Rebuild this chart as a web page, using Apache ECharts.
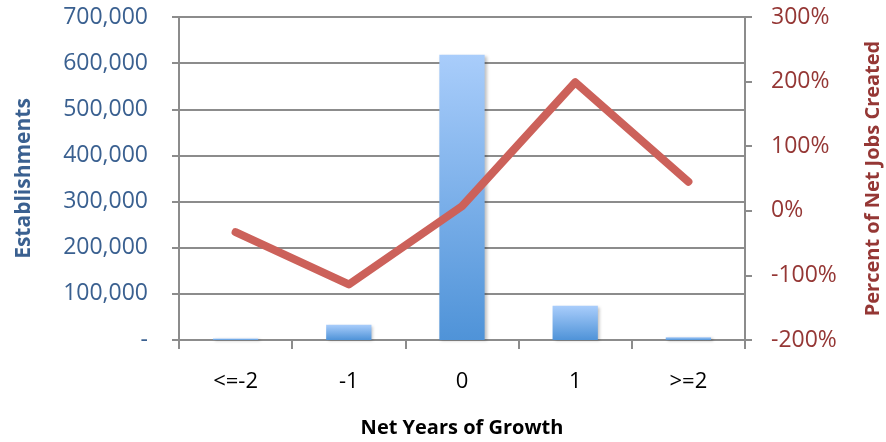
<!DOCTYPE html>
<html>
<head>
<meta charset="utf-8">
<script src="https://cdn.jsdelivr.net/npm/echarts@6/dist/echarts.min.js"></script>
<style>
  html, body { margin: 0; padding: 0; background: #fff; }
  #main { width: 886px; height: 442px; }
</style>
</head>
<body>
<div id="main"></div>
<script type="text/javascript">
// 数据
var categories = ['<=-2', '-1', '0', '1', '>=2'];
var establishments = [3000, 33000, 618000, 74000, 6000];
var pctJobs = [-33, -114, 7, 199, 45];

var myChart = echarts.init(document.getElementById('main'));
var font = '"Open Sans", sans-serif';
var option = {
    animation: false,
    grid: { left: 179, right: 141, top: 17, bottom: 102, containLabel: false, outerBoundsMode: 'none' },
    xAxis: {
        type: 'category',
        data: categories,
        name: 'Net Years of Growth',
        nameLocation: 'middle',
        nameGap: 78,
        nameTextStyle: { color: '#000', fontWeight: 'bold', fontSize: 20, fontFamily: font },
        axisLine: { lineStyle: { color: '#8c8c8c', width: 2 } },
        axisTick: { show: true, length: 9, lineStyle: { color: '#8c8c8c', width: 2 } },
        axisLabel: { color: '#000', fontSize: 22, margin: 31, fontFamily: font }
    },
    yAxis: [{
        type: 'value',
        min: 0, max: 700000, interval: 100000,
        name: 'Establishments',
        nameLocation: 'middle',
        nameGap: 144,
        nameTextStyle: { color: '#3A6090', fontWeight: 'bold', fontSize: 21, fontFamily: font },
        axisLine: { show: true, lineStyle: { color: '#8c8c8c', width: 2 } },
        axisTick: { show: true, length: 7, lineStyle: { color: '#8c8c8c', width: 2 } },
        axisLabel: {
            color: '#3A6090', fontSize: 23, margin: 31, fontFamily: font,
            formatter: function (v) { return v === 0 ? '-' : v.toLocaleString('en-US'); }
        },
        splitLine: { lineStyle: { color: '#8c8c8c', width: 2 } }
    }, {
        type: 'value',
        min: -200, max: 300, interval: 100,
        name: 'Percent of Net Jobs Created',
        nameLocation: 'middle',
        nameGap: 118,
        nameRotate: 90,
        nameTextStyle: { color: '#953735', fontWeight: 'bold', fontSize: 20, fontFamily: font },
        axisLine: { show: true, lineStyle: { color: '#8c8c8c', width: 2 } },
        axisTick: { show: true, length: 7, lineStyle: { color: '#8c8c8c', width: 2 } },
        axisLabel: {
            color: '#953735', fontSize: 23, margin: 26, fontFamily: font,
            formatter: function (v) { return v + '%'; }
        },
        splitLine: { show: false }
    }],
    series: [{
        name: 'Establishments',
        type: 'bar',
        yAxisIndex: 0,
        barWidth: '40%',
        data: establishments,
        itemStyle: {
            color: new echarts.graphic.LinearGradient(0, 0, 0, 1, [
                { offset: 0, color: '#A9CDFB' },
                { offset: 1, color: '#4F93D8' }
            ]),
            shadowColor: 'rgba(0,0,0,0.25)',
            shadowBlur: 3,
            shadowOffsetX: 2,
            shadowOffsetY: 1
        }
    }, {
        name: 'Percent of Net Jobs Created',
        type: 'line',
        yAxisIndex: 1,
        data: pctJobs,
        symbol: 'none',
        lineStyle: { color: '#CC615A', width: 8, cap: 'round', join: 'round' }
    }]
};
myChart.setOption(option);
</script>
</body>
</html>
